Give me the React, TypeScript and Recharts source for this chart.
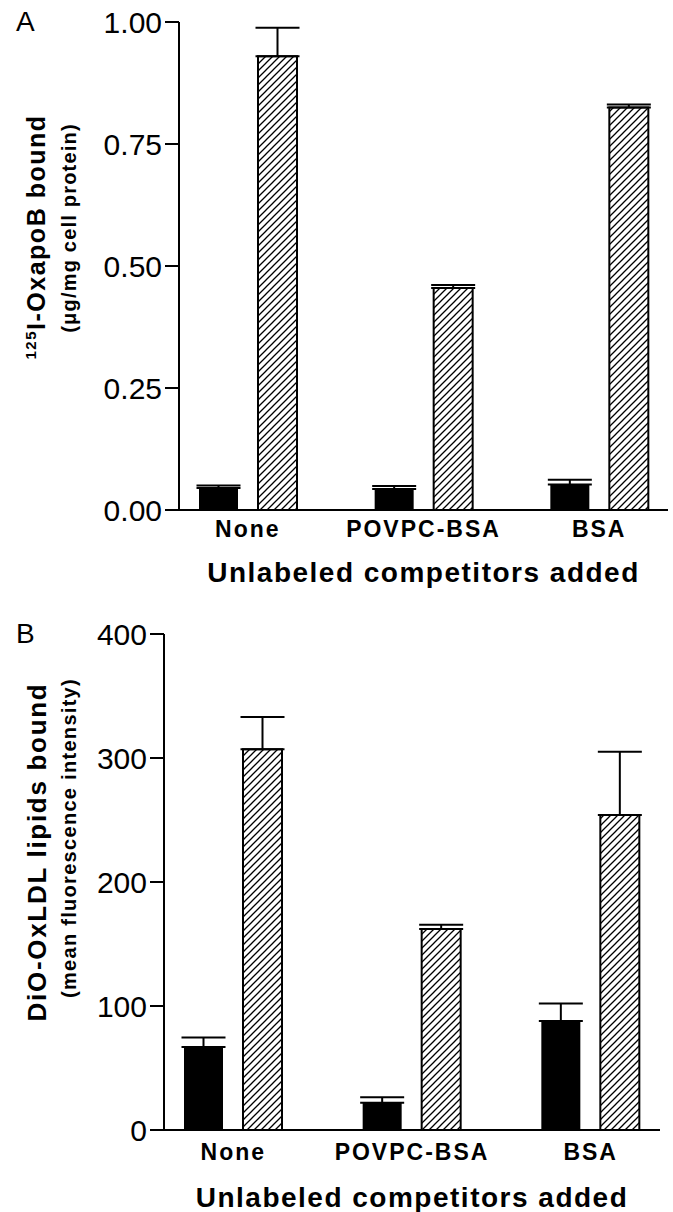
import React from "react";
import { BarChart, Bar, XAxis, YAxis, ErrorBar } from "recharts";

const FONT = '"Liberation Sans", Arial, Helvetica, sans-serif';

const categories = ["None", "POVPC-BSA", "BSA"];

// panel A: 125I-OxapoB bound
const oxBlack = [0.045, 0.043, 0.052];
const oxBlackErr = [0.005, 0.006, 0.01];
const oxHatched = [0.93, 0.455, 0.825];
const oxHatchedErr = [0.058, 0.006, 0.006];
const oxTicks = [0, 0.25, 0.5, 0.75, 1];

// panel B: DiO-OxLDL lipids bound
const dioBlack = [67, 22, 88];
const dioBlackErr = [7.5, 4.5, 14];
const dioHatched = [307, 162, 254];
const dioHatchedErr = [26, 3.5, 51];
const dioTicks = [0, 100, 200, 300, 400];

const toRows = (black: number[], blackErr: number[], hatched: number[], hatchedErr: number[]) =>
  categories.map((name, i) => ({
    name,
    black: black[i],
    blackErr: [0, blackErr[i]],
    hatched: hatched[i],
    hatchedErr: [0, hatchedErr[i]],
  }));

const rowsA = toRows(oxBlack, oxBlackErr, oxHatched, oxHatchedErr);
const rowsB = toRows(dioBlack, dioBlackErr, dioHatched, dioHatchedErr);

const boldText = { fontFamily: FONT, fontWeight: 700, fill: "#000" };

function CatTick(props: any) {
  const { x, y, payload, dy } = props;
  return (
    <text x={x} y={y + dy} textAnchor="middle" fontSize={23} letterSpacing={2} {...boldText}>
      {payload.value}
    </text>
  );
}

function Panel(props: any) {
  const { rows, top, height, margin, yWidth, xHeight, domain, ticks, fmt, pad, tickDy, titleDy, letter, letterY, line1, line2, l1, l2 } = props;
  return (
    <div style={{ position: "absolute", left: 0, top, width: 673, height }}>
      <BarChart width={673} height={height} data={rows} margin={margin} barSize={39} barGap={20}>
        <XAxis
          dataKey="name"
          interval={0}
          height={xHeight}
          padding={pad}
          tickLine={false}
          tickSize={0}
          tickMargin={0}
          axisLine={{ stroke: "#000", strokeWidth: 2 }}
          tick={<CatTick dy={tickDy} />}
          label={(p: any) => {
            const vb = p.viewBox;
            return (
              <text x={vb.x + vb.width / 2} y={vb.y + titleDy} textAnchor="middle" fontSize={28} letterSpacing={1.5} {...boldText}>
                Unlabeled competitors added
              </text>
            );
          }}
        />
        <YAxis
          width={yWidth}
          domain={domain}
          ticks={ticks}
          interval={0}
          allowDataOverflow
          tickFormatter={fmt}
          tickSize={14}
          tickMargin={3}
          axisLine={{ stroke: "#000", strokeWidth: 2 }}
          tickLine={{ stroke: "#000", strokeWidth: 2 }}
          tick={{ fontSize: 30, fill: "#000", fontFamily: FONT }}
          label={() => (
            <g>
              <text x={16} y={letterY} fontSize={28} fontFamily={FONT} fill="#000">
                {letter}
              </text>
              <text transform={`rotate(-90 ${l1.x} ${l1.y})`} x={l1.x} y={l1.y} textAnchor="middle" fontSize={l1.size} letterSpacing={l1.ls} {...boldText}>
                {line1}
              </text>
              <text transform={`rotate(-90 ${l2.x} ${l2.y})`} x={l2.x} y={l2.y} textAnchor="middle" fontSize={20} letterSpacing={l2.ls} {...boldText}>
                {line2}
              </text>
            </g>
          )}
        />
        <Bar dataKey="black" fill="#000" isAnimationActive={false}>
          <ErrorBar dataKey="blackErr" width={22} stroke="#000" strokeWidth={2} isAnimationActive={false} />
        </Bar>
        <Bar dataKey="hatched" fill="url(#hatch)" stroke="#000" strokeWidth={2} isAnimationActive={false}>
          <ErrorBar dataKey="hatchedErr" width={22} stroke="#000" strokeWidth={2} isAnimationActive={false} />
        </Bar>
      </BarChart>
    </div>
  );
}

export default function App() {
  return (
    <div style={{ position: "absolute", left: 0, top: 0, width: 673, height: 1212, background: "#fff" }}>
      <svg width={0} height={0} style={{ position: "absolute" }}>
        <defs>
          <pattern id="hatch" patternUnits="userSpaceOnUse" width={7} height={7}>
            <path d="M-1,1 l2,-2 M0,7 l7,-7 M6,8 l2,-2" stroke="#000" strokeWidth={1.3} />
          </pattern>
        </defs>
      </svg>
      <Panel
        rows={rowsA}
        top={0}
        height={600}
        margin={{ top: 22, right: 5, left: 0, bottom: 0 }}
        yWidth={179}
        xHeight={90}
        domain={[0, 1]}
        ticks={oxTicks}
        fmt={(v: number) => v.toFixed(2)}
        pad={{ left: -19, right: -19 }}
        tickDy={27}
        titleDy={72}
        letter="A"
        letterY={31}
        line1={
          <>
            <tspan fontSize={15} dy={-9}>125</tspan>
            <tspan dy={9}>I-OxapoB bound</tspan>
          </>
        }
        line2="(μg/mg cell protein)"
        l1={{ x: 45, y: 237, size: 25, ls: 1.5 }}
        l2={{ x: 76, y: 228, ls: 1.2 }}
      />
      <Panel
        rows={rowsB}
        top={600}
        height={612}
        margin={{ top: 34, right: 13, left: 0, bottom: 0 }}
        yWidth={164}
        xHeight={82}
        domain={[0, 400]}
        ticks={dioTicks}
        fmt={(v: number) => String(v)}
        pad={{ left: -20, right: -20 }}
        tickDy={30}
        titleDy={77}
        letter="B"
        letterY={43}
        line1="DiO-OxLDL lipids bound"
        line2="(mean fluorescence intensity)"
        l1={{ x: 46, y: 252, size: 26, ls: 1.7 }}
        l2={{ x: 76, y: 238, ls: 1.3 }}
      />
    </div>
  );
}
